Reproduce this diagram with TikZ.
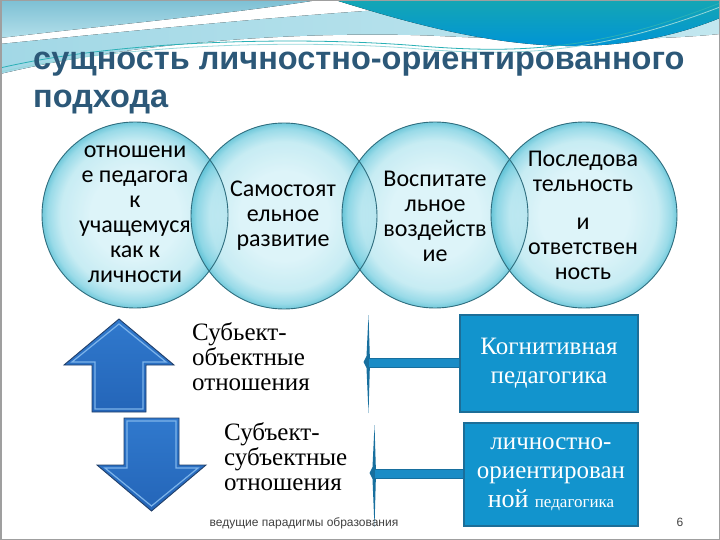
\documentclass[tikz,border=0pt]{standalone}
\usepackage{fontspec}
\setmainfont{Liberation Serif}
\newfontfamily\titlefont{Liberation Sans}
\newfontfamily\circfont{Carlito}
\definecolor{titleC}{HTML}{2C5878}
\definecolor{boxC}{HTML}{1294CD}
\definecolor{boxE}{HTML}{1C6E98}
\definecolor{arrTop}{HTML}{3079CD}
\definecolor{arrBot}{HTML}{2465B8}
\definecolor{arrE}{HTML}{22406A}
\definecolor{arrHi}{HTML}{7DB4EA}
\definecolor{cIn}{HTML}{D4F1F7}
\definecolor{cMid}{HTML}{B9E7F0}
\definecolor{cEdge}{HTML}{7FD1E2}
\definecolor{cRim}{HTML}{4DBBD1}
\definecolor{cLine}{HTML}{2F6D7E}
\definecolor{barC}{HTML}{1A8CC6}
\definecolor{barE}{HTML}{176F9E}
\definecolor{waveA1}{HTML}{7DC0D4}
\definecolor{waveA2}{HTML}{B3DFEA}
\definecolor{waveB1}{HTML}{A2D8E6}
\definecolor{waveB2}{HTML}{C2E7EF}
\definecolor{swT}{HTML}{14A6B4}
\definecolor{swB}{HTML}{0094D6}
\definecolor{tealL}{HTML}{2AB0B5}
\definecolor{footC}{HTML}{404040}
\pgfdeclareradialshading{ballshade}{\pgfpoint{0bp}{0bp}}{color(0bp)=(cIn); color(12bp)=(cIn); color(20bp)=(cMid); color(23.5bp)=(cEdge); color(25bp)=(cRim); color(50bp)=(cRim)}
\begin{document}
\begin{tikzpicture}[x=1pt,y=-1pt,
  ctext/.style={font=\circfont\fontsize{24}{25}\selectfont, align=center, inner sep=0pt, text=black},
  stext/.style={font=\fontsize{25}{25}\selectfont, align=left, inner sep=0pt, anchor=west, text=black},
  pbox/.style={draw=boxE, line width=1.6pt, fill=boxC, text=white, align=center, inner sep=0pt,
     font=\fontsize{25}{29}\selectfont},
  bigarrow/.style={top color=arrTop, bottom color=arrBot, draw=arrE, line width=0.9pt, line join=miter},
  bevel/.style={draw=arrHi, line width=1.2pt, line join=miter},
  bar/.style={draw=barE, fill=barC, line width=0.5pt},
  spindle/.style={fill=barE},
  tealline/.style={draw=tealL, line width=0.8pt},
]
\useasboundingbox (0,0) rectangle (720,540);
% ---------- top decoration ----------
\fill[top color=waveA1, bottom color=waveA2] (0,0) -- (318,0) .. controls (230,14) and (110,25) .. (0,38) -- cycle;
\fill[left color=waveB1, right color=waveB2] (0,44) .. controls (120,32) and (260,18) .. (380,10) .. controls (500,4) and (620,2) .. (720,0) -- (720,34) .. controls (640,42) and (520,40) .. (440,36) .. controls (330,31) and (150,38) .. (0,74) -- cycle;
\fill[top color=swT, bottom color=swB] (335,0) .. controls (400,20) and (480,44) .. (565,46) .. controls (640,47) and (690,30) .. (720,18) -- (720,0) -- cycle;
\draw[tealline] (0,68) .. controls (120,40) and (300,36) .. (420,46) .. controls (520,54) and (600,50) .. (720,3);
\draw[tealline, draw=tealL!50] (0,72) .. controls (120,44) and (300,39) .. (420,49) .. controls (520,57) and (600,53) .. (720,7);
% ---------- title ----------
\node[anchor=base west, inner sep=0pt, font=\titlefont\bfseries\fontsize{32.5}{38}\selectfont, text=titleC] (title1) at (33,70) {сущность личностно-ориентированного};
\node[anchor=base west, inner sep=0pt, font=\titlefont\bfseries\fontsize{32.5}{38}\selectfont, text=titleC] (title2) at (33,108) {подхода};
% ---------- circles ----------
\coordinate (c1) at (135,215);
\coordinate (c2) at (284,216);
\coordinate (c3) at (435,215);
\coordinate (c4) at (584,215);
\foreach \c in {c1,c2,c3,c4}{
  \path[shading=ballshade, fill opacity=0.8] (\c) circle (93);
}
\foreach \c in {c1,c2,c3,c4}{
  \draw[cLine, line width=0.9pt] (\c) circle (93);
}
\node[ctext] (t1) at (135,214) {отношени\\е педагога\\к\\учащемуся\\как к\\личности};
\node[ctext] (t2) at (283,216) {Самостоят\\ельное\\развитие};
\node[ctext] (t3) at (435,216) {Воспитате\\льное\\воздейств\\ие};
\node[ctext] (t4) at (583,215) {Последова\\тельность\\[13pt]и\\ответствен\\ность};
% ---------- arrows ----------
\draw[bigarrow] (119,319) -- (174,365) -- (146,365) -- (146,412) -- (92,412) -- (92,365) -- (64,365) -- cycle;
\draw[bevel] (119,324) -- (166,362) -- (143,362) -- (143,409) -- (95,409) -- (95,362) -- (72,362) -- cycle;
\draw[bigarrow] (124,418) -- (179,418) -- (179,465) -- (206,465) -- (151.5,511) -- (97,465) -- (124,465) -- cycle;
\draw[bevel] (127,421) -- (176,421) -- (176,468) -- (198,468) -- (151.5,506) -- (105,468) -- (127,468) -- cycle;
% ---------- relation texts ----------
\node[stext] (r1) at (192,357) {Субьект-\\объектные\\отношения};
\node[stext] (r2) at (224,457) {Субъект-\\субъектные\\отношения};
% ---------- boxes ----------
\node[pbox, minimum width=178, minimum height=97] (k1) at (549,363.5) {Когнитивная\\педагогика};
\node[pbox, minimum width=174, minimum height=103] (k2) at (551,474.5) {личностно-\\ориентирован\\{\fontsize{26}{29}\selectfont ной} {\fontsize{17}{29}\selectfont педагогика}};
% ---------- brackets ----------
\coordinate (s1) at (368,362);
\coordinate (s2) at (374,473);
\fill[spindle] (368.5,315) -- (366.5,356) -- (363.5,362) -- (366.5,368) -- (368.5,413) -- (370,362) -- cycle;
\fill[spindle] (374.5,425) -- (372.5,467) -- (369.5,473) -- (372.5,479) -- (374.5,527) -- (376,473) -- cycle;
\draw[bar] ([yshift=3.5]s1) rectangle ([yshift=-3.5]k1.west);
\draw[bar] ([yshift=3.5]s2) rectangle ([yshift=-3.5]k2.west);
% ---------- footer ----------
\node[anchor=base, inner sep=0pt, font=\titlefont\fontsize{12}{14}\selectfont, text=footC] (foot) at (304,526) {ведущие парадигмы образования};
\node[anchor=base, inner sep=0pt, font=\titlefont\fontsize{12}{14}\selectfont, text=footC] (pnum) at (680,526) {6};
% ---------- frame ----------
\draw[gray!75, line width=1.5pt] (0.75,0.75) rectangle (719.25,539.25);
\end{tikzpicture}
\end{document}
